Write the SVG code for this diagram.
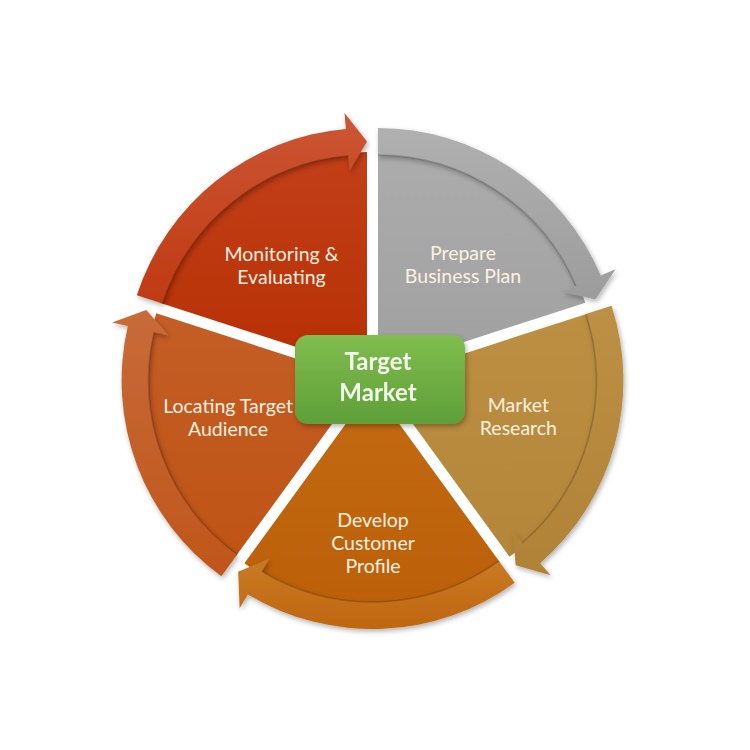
<svg xmlns="http://www.w3.org/2000/svg" width="750" height="750" viewBox="0 0 750 750">
<defs>
<style>
.lbl{font-family:Lato,"Open Sans","Liberation Sans",sans-serif;font-size:19.5px;fill:#fbf1e1;text-anchor:middle}
.ctr{font-family:Lato,"Open Sans","Liberation Sans",sans-serif;font-size:24px;font-weight:bold;fill:#f4f9ee;text-anchor:middle}
.edge{fill:none;stroke:#000;stroke-opacity:0.18;stroke-width:1.5}
</style>
<filter id="sh" x="-20%" y="-20%" width="140%" height="140%">
<feDropShadow dx="1.5" dy="2.5" stdDeviation="2.5" flood-color="#000" flood-opacity="0.3"/>
</filter>
<linearGradient id="gGray" x1="0" y1="0" x2="0" y2="1"><stop offset="0" stop-color="#acacac"/><stop offset="1" stop-color="#a0a0a0"/></linearGradient>
<linearGradient id="gGrayA" x1="0" y1="0" x2="0" y2="1"><stop offset="0" stop-color="#b0b0b0"/><stop offset="1" stop-color="#9c9c9c"/></linearGradient>
<linearGradient id="gTan" x1="0" y1="0" x2="0" y2="1"><stop offset="0" stop-color="#bc8f42"/><stop offset="1" stop-color="#b4863a"/></linearGradient>
<linearGradient id="gTanA" x1="0" y1="0" x2="0" y2="1"><stop offset="0" stop-color="#bd9046"/><stop offset="1" stop-color="#b08236"/></linearGradient>
<linearGradient id="gOr" x1="0" y1="0" x2="0" y2="1"><stop offset="0" stop-color="#c26a12"/><stop offset="1" stop-color="#bc600a"/></linearGradient>
<linearGradient id="gOrA" x1="0" y1="0" x2="0" y2="1"><stop offset="0" stop-color="#c97a26"/><stop offset="1" stop-color="#c0660e"/></linearGradient>
<linearGradient id="gLoc" x1="0" y1="0" x2="0" y2="1"><stop offset="0" stop-color="#c45e26"/><stop offset="1" stop-color="#bf5414"/></linearGradient>
<linearGradient id="gLocA" x1="0" y1="0" x2="0" y2="1"><stop offset="0" stop-color="#c86a3a"/><stop offset="1" stop-color="#c0561a"/></linearGradient>
<linearGradient id="gRed" x1="0" y1="0" x2="0" y2="1"><stop offset="0" stop-color="#c23f18"/><stop offset="1" stop-color="#b83004"/></linearGradient>
<linearGradient id="gRedA" x1="0" y1="0" x2="0" y2="1"><stop offset="0" stop-color="#cc5634"/><stop offset="1" stop-color="#bf3a12"/></linearGradient>
<linearGradient id="gGreen" x1="0" y1="0" x2="0" y2="1"><stop offset="0" stop-color="#80bd4f"/><stop offset="1" stop-color="#5f9f38"/></linearGradient>
</defs>
<rect width="750" height="750" fill="#ffffff"/>

<g id="node-prepare" transform="translate(378,370)">
<path d="M0,0 L0,-218 A218,218 0 0 1 207.33,-67.37 Z" fill="url(#gGray)"/>
<text class="lbl" x="85" y="-110">Prepare</text>
<text class="lbl" x="85" y="-87">Business Plan</text>
</g>
<g id="node-market" transform="translate(381.4,380.5)">
<path d="M0,0 L207.33,-67.37 A218,218 0 0 1 128.14,176.37 Z" fill="url(#gTan)"/>
<text class="lbl" x="137" y="31">Market</text>
<text class="lbl" x="137" y="54">Research</text>
</g>
<g id="node-develop" transform="translate(372.5,387)">
<path d="M0,0 L128.14,176.37 A218,218 0 0 1 -128.14,176.37 Z" fill="url(#gOr)"/>
<text class="lbl" x="0.5" y="140">Develop</text>
<text class="lbl" x="0.5" y="163">Customer</text>
<text class="lbl" x="0.5" y="186">Profile</text>
</g>
<g id="node-locating" transform="translate(363.6,380.5)">
<path d="M0,0 L-128.14,176.37 A218,218 0 0 1 -207.33,-67.37 Z" fill="url(#gLoc)"/>
<text class="lbl" x="-135.6" y="32">Locating Target</text>
<text class="lbl" x="-135.6" y="55">Audience</text>
</g>
<g id="node-monitoring" transform="translate(367,370)">
<path d="M0,0 L-207.33,-67.37 A218,218 0 0 1 0,-218 Z" fill="url(#gRed)"/>
<text class="lbl" x="-85.5" y="-109">Monitoring &amp;</text>
<text class="lbl" x="-85.5" y="-86">Evaluating</text>
</g>

<g id="connectors" filter="url(#sh)">
<g transform="translate(378,370)">
<path d="M0,-215 L0,-242 A242,242 0 0 1 222.76,-94.56 L237.49,-100.81 L217.32,-70.61 L184.10,-78.15 L197.91,-84.01 A215,215 0 0 0 0,-215 Z" fill="url(#gGrayA)"/>
<path class="edge" d="M197.91,-84.01 A215,215 0 0 0 0,-215"/>
</g>
<g transform="translate(381.4,380.5)">
<path d="M204.48,-66.44 L230.16,-74.78 A242,242 0 0 1 158.77,182.64 L169.26,194.72 L134.31,184.86 L131.21,150.94 L141.05,162.26 A215,215 0 0 0 204.48,-66.44 Z" fill="url(#gTanA)"/>
<path class="edge" d="M141.05,162.26 A215,215 0 0 0 204.48,-66.44"/>
</g>
<g transform="translate(372.5,387)">
<path d="M126.37,173.94 L142.25,195.78 A242,242 0 0 1 -124.64,207.44 L-132.88,221.15 L-134.31,184.86 L-103.01,171.43 L-110.73,184.29 A215,215 0 0 0 126.37,173.94 Z" fill="url(#gOrA)"/>
<path class="edge" d="M-110.73,184.29 A215,215 0 0 0 126.37,173.94"/>
</g>
<g transform="translate(363.6,380.5)">
<path d="M-126.37,173.94 L-142.25,195.78 A242,242 0 0 1 -235.80,-54.44 L-251.39,-58.04 L-217.32,-70.61 L-194.87,-44.99 L-209.49,-48.36 A215,215 0 0 0 -126.37,173.94 Z" fill="url(#gLocA)"/>
<path class="edge" d="M-209.49,-48.36 A215,215 0 0 0 -126.37,173.94"/>
</g>
<g transform="translate(367,370)">
<path d="M-204.48,-66.44 L-230.16,-74.78 A242,242 0 0 1 -21.09,-241.08 L-22.49,-257.02 L0,-228.5 L-17.43,-199.24 L-18.74,-214.18 A215,215 0 0 0 -204.48,-66.44 Z" fill="url(#gRedA)"/>
<path class="edge" d="M-18.74,-214.18 A215,215 0 0 0 -204.48,-66.44"/>
</g>
</g>

<g id="node-target-market">
<rect x="295" y="335" width="170" height="89" rx="13" fill="url(#gGreen)" filter="url(#sh)"/>
<text class="ctr" x="378" y="370">Target</text>
<text class="ctr" x="378" y="401">Market</text>
</g>
</svg>
